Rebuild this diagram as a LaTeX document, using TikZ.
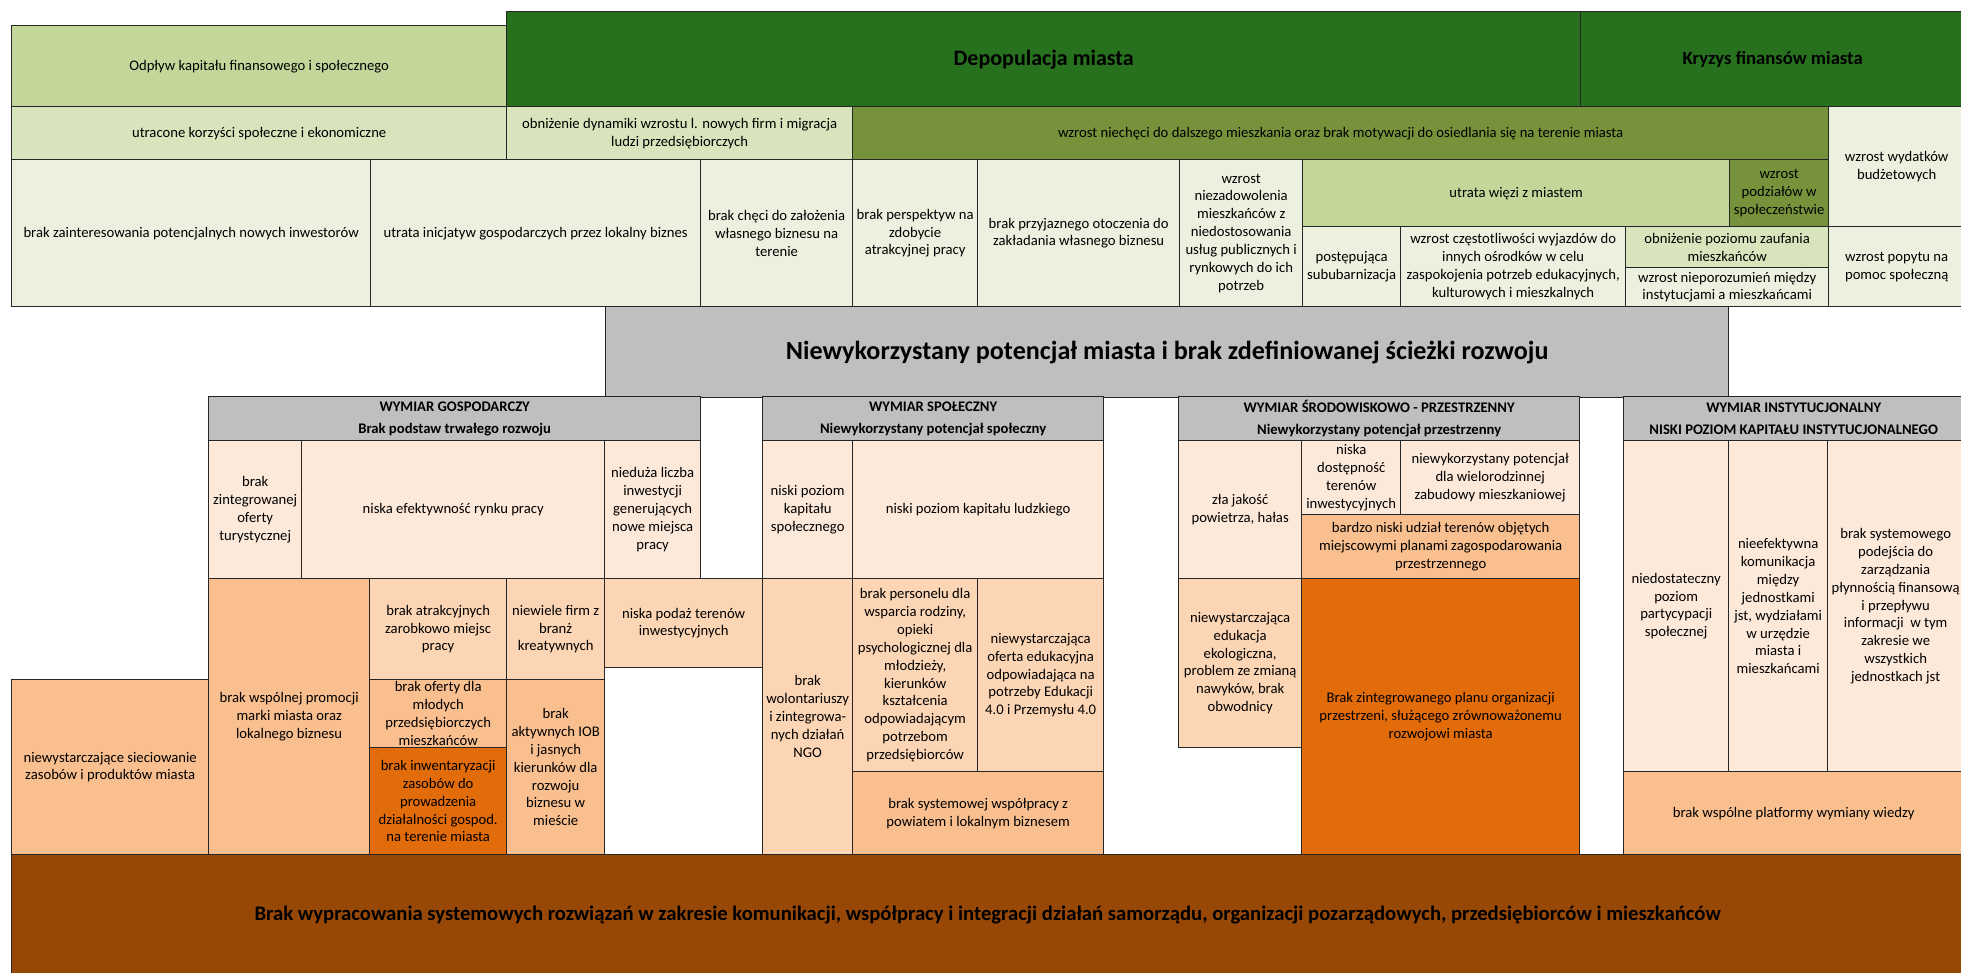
\documentclass[tikz,border=0pt]{standalone}
\usepackage{fontspec}
\setmainfont{Carlito}
\usepackage{tikz}

\definecolor{darkgreen}{HTML}{26701E}
\definecolor{olive}{HTML}{76933C}
\definecolor{midgreen}{HTML}{C4D79B}
\definecolor{lightgreen}{HTML}{D8E4BC}
\definecolor{palegreen}{HTML}{EBF1DE}
\definecolor{headgrey}{HTML}{BFBFBF}
\definecolor{palepeach}{HTML}{FDE9D9}
\definecolor{peach}{HTML}{FCD5B4}
\definecolor{apricot}{HTML}{FABF8F}
\definecolor{rust}{HTML}{E26B0A}
\definecolor{bark}{HTML}{974706}

\tikzset{
    tile/.style={rectangle, draw=black!85, line width=1pt, anchor=north west, align=center, inner sep=1pt, font=\fontsize{11}{13.4}\selectfont},
    wh/.style 2 args={minimum width=#1*0.75pt, minimum height=#2*0.75pt},
    head/.style={tile, fill=headgrey, font=\bfseries\fontsize{11}{16.5}\selectfont}
}

\begin{document}
\begin{tikzpicture}[x=0.75pt, y=-0.75pt]
        \useasboundingbox (0, 0) rectangle (1961, 972);

        % Effects, top row
        \node[tile, wh={495}{81}, fill=midgreen] (odplyw) at (11, 25) {Odpływ kapitału finansowego i społecznego};
        \node[tile, wh={1074}{95}, fill=darkgreen, font=\bfseries\fontsize{16.5}{20}\selectfont] (depopulacja) at (506, 11) {Depopulacja miasta};
        \node[tile, wh={384}{95}, fill=darkgreen, font=\bfseries\fontsize{14}{17}\selectfont] (kryzys) at (1580, 11) {Kryzys finansów miasta};

        % Effects, second row
        \node[tile, wh={495}{53}, fill=lightgreen] (utracone) at (11, 106) {utracone korzyści społeczne i ekonomiczne};
        \node[tile, wh={346}{53}, fill=lightgreen] (dynamika) at (506, 106) {obniżenie dynamiki wzrostu l. nowych firm i migracja\\ludzi przedsiębiorczych};
        \node[tile, wh={976}{53}, fill=olive] (niechec) at (852, 106) {wzrost niechęci do dalszego mieszkania oraz brak motywacji do osiedlania się na terenie miasta};
        \node[tile, wh={136}{120}, fill=palegreen] (wydatki) at (1828, 106) {wzrost wydatków\\budżetowych};

        % Effects, third row
        \node[tile, wh={359}{147}, fill=palegreen] (inwestorzy) at (11, 159) {brak zainteresowania potencjalnych nowych inwestorów};
        \node[tile, wh={330}{147}, fill=palegreen] (inicjatywy) at (370, 159) {utrata inicjatyw gospodarczych przez lokalny biznes};
        \node[tile, wh={152}{147}, fill=palegreen] (chec) at (700, 159) {brak chęci do założenia\\własnego biznesu na\\terenie};
        \node[tile, wh={125}{147}, fill=palegreen] (perspektywy) at (852, 159) {brak perspektyw na\\zdobycie\\atrakcyjnej pracy};
        \node[tile, wh={202}{147}, fill=palegreen] (otoczenie) at (977, 159) {brak przyjaznego otoczenia do\\zakładania własnego biznesu};
        \node[tile, wh={123}{147}, fill=palegreen] (niezadowolenie) at (1179, 159) {wzrost\\niezadowolenia\\mieszkańców z\\niedostosowania\\usług publicznych i\\rynkowych do ich\\potrzeb};
        \node[tile, wh={427}{67}, fill=midgreen] (wiezi) at (1302, 159) {utrata więzi z miastem};
        \node[tile, wh={99}{67}, fill=olive] (podzialy) at (1729, 159) {wzrost\\podziałów w\\społeczeństwie};
        \node[tile, wh={98}{80}, fill=palegreen] (suburbanizacja) at (1302, 226) {postępująca\\sububarnizacja};
        \node[tile, wh={225}{80}, fill=palegreen] (wyjazdy) at (1400, 226) {wzrost częstotliwości wyjazdów do\\innych ośrodków w celu\\zaspokojenia potrzeb edukacyjnych,\\kulturowych i mieszkalnych};
        \node[tile, wh={203}{41}, fill=lightgreen] (zaufanie) at (1625, 226) {obniżenie poziomu zaufania\\mieszkańców};
        \node[tile, wh={203}{39}, fill=palegreen] (nieporozumienia) at (1625, 267) {wzrost nieporozumień między\\instytucjami a mieszkańcami};
        \node[tile, wh={136}{80}, fill=palegreen] (popyt) at (1828, 226) {wzrost popytu na\\pomoc społeczną};

        % Core problem
        \node[tile, wh={1123}{91}, fill=headgrey, font=\bfseries\fontsize{19.6}{24}\selectfont] (problem) at (605, 306) {Niewykorzystany potencjał miasta i brak zdefiniowanej ścieżki rozwoju};

        % Dimensions
        \node[head, wh={492}{44}] (gospodarczy) at (208, 396) {WYMIAR GOSPODARCZY\\Brak podstaw trwałego rozwoju};
        \node[head, wh={341}{44}] (spoleczny) at (762, 396) {WYMIAR SPOŁECZNY\\Niewykorzystany potencjał społeczny};
        \node[head, wh={401}{44}] (srodowiskowy) at (1178, 396) {WYMIAR ŚRODOWISKOWO - PRZESTRZENNY\\Niewykorzystany potencjał przestrzenny};
        \node[head, wh={340}{44}] (instytucjonalny) at (1623, 396) {WYMIAR INSTYTUCJONALNY\\NISKI POZIOM KAPITAŁU INSTYTUCJONALNEGO};

        % Economic causes
        \node[tile, wh={93}{138}, fill=palepeach] (turystyka) at (208, 440) {brak\\zintegrowanej\\oferty\\turystycznej};
        \node[tile, wh={303}{138}, fill=palepeach] (rynek) at (301, 440) {niska efektywność rynku pracy};
        \node[tile, wh={96}{138}, fill=palepeach] (inwestycje) at (604, 440) {nieduża liczba\\inwestycji\\generujących\\nowe miejsca\\pracy};
        \node[tile, wh={197}{175}, fill=apricot] (sieciowanie) at (11, 679) {niewystarczające sieciowanie\\zasobów i produktów miasta};
        \node[tile, wh={161}{276}, fill=apricot] (promocja) at (208, 578) {brak wspólnej promocji\\marki miasta oraz\\lokalnego biznesu};
        \node[tile, wh={137}{101}, fill=peach] (zarobki) at (369, 578) {brak atrakcyjnych\\zarobkowo miejsc\\pracy};
        \node[tile, wh={98}{101}, fill=peach] (kreatywne) at (506, 578) {niewiele firm z\\branż\\kreatywnych};
        \node[tile, wh={137}{68}, fill=apricot] (mlodzi) at (369, 679) {brak oferty dla\\młodych\\przedsiębiorczych\\mieszkańców};
        \node[tile, wh={137}{107}, fill=rust] (inwentaryzacja) at (369, 747) {brak inwentaryzacji\\zasobów do\\prowadzenia\\działalności gospod.\\na terenie miasta};
        \node[tile, wh={98}{175}, fill=apricot] (iob) at (506, 679) {brak\\aktywnych IOB\\i jasnych\\kierunków dla\\rozwoju\\biznesu w\\mieście};
        \node[tile, wh={158}{89}, fill=peach] (podaz) at (604, 578) {niska podaż terenów\\inwestycyjnych};

        % Social causes
        \node[tile, wh={90}{138}, fill=palepeach] (kapspol) at (762, 440) {niski poziom\\kapitału\\społecznego};
        \node[tile, wh={251}{138}, fill=palepeach] (kapludz) at (852, 440) {niski poziom kapitału ludzkiego};
        \node[tile, wh={90}{276}, fill=peach] (ngo) at (762, 578) {brak\\wolontariuszy\\i zintegrowa-\\nych działań\\NGO};
        \node[tile, wh={125}{193}, fill=peach] (personel) at (852, 578) {brak personelu dla\\wsparcia rodziny,\\opieki\\psychologicznej dla\\młodzieży,\\kierunków\\kształcenia\\odpowiadającym\\potrzebom\\przedsiębiorców};
        \node[tile, wh={126}{193}, fill=peach] (edukacja) at (977, 578) {niewystarczająca\\oferta edukacyjna\\odpowiadająca na\\potrzeby Edukacji\\4.0 i Przemysłu 4.0};
        \node[tile, wh={251}{83}, fill=apricot] (powiat) at (852, 771) {brak systemowej współpracy z\\powiatem i lokalnym biznesem};

        % Spatial causes
        \node[tile, wh={123}{138}, fill=palepeach] (powietrze) at (1178, 440) {zła jakość\\powietrza, hałas};
        \node[tile, wh={99}{74}, fill=palepeach] (dostepnosc) at (1301, 440) {niska\\dostępność\\terenów\\inwestycyjnych};
        \node[tile, wh={179}{74}, fill=palepeach] (zabudowa) at (1400, 440) {niewykorzystany potencjał\\dla wielorodzinnej\\zabudowy mieszkaniowej};
        \node[tile, wh={278}{64}, fill=apricot] (mpzp) at (1301, 514) {bardzo niski udział terenów objętych\\miejscowymi planami zagospodarowania\\przestrzennego};
        \node[tile, wh={123}{169}, fill=peach] (ekologia) at (1178, 578) {niewystarczająca\\edukacja\\ekologiczna,\\problem ze zmianą\\nawyków, brak\\obwodnicy};
        \node[tile, wh={278}{276}, fill=rust] (plan) at (1301, 578) {Brak zintegrowanego planu organizacji\\przestrzeni, służącego zrównoważonemu\\rozwojowi miasta};

        % Institutional causes
        \node[tile, wh={105}{331}, fill=palepeach] (partycypacja) at (1623, 440) {niedostateczny\\poziom\\partycypacji\\społecznej};
        \node[tile, wh={99}{331}, fill=palepeach] (komunikacja) at (1728, 440) {nieefektywna\\komunikacja\\między\\jednostkami\\jst, wydziałami\\w urzędzie\\miasta i\\mieszkańcami};
        \node[tile, wh={136}{331}, fill=palepeach] (plynnosc) at (1827, 440) {brak systemowego\\podejścia do\\zarządzania\\płynnością finansową\\i przepływu\\informacji\ \ w tym\\zakresie we\\wszystkich\\jednostkach jst};
        \node[tile, wh={340}{83}, fill=apricot] (platforma) at (1623, 771) {brak wspólne platformy wymiany wiedzy};

        % Root cause
        \node[tile, wh={1952}{121}, fill=bark, font=\bfseries\fontsize{15.5}{19}\selectfont] (przyczyna) at (11, 854) {Brak wypracowania systemowych rozwiązań w zakresie komunikacji, współpracy i integracji działań samorządu, organizacji pozarządowych, przedsiębiorców i mieszkańców};

    \end{tikzpicture}
\end{document}
